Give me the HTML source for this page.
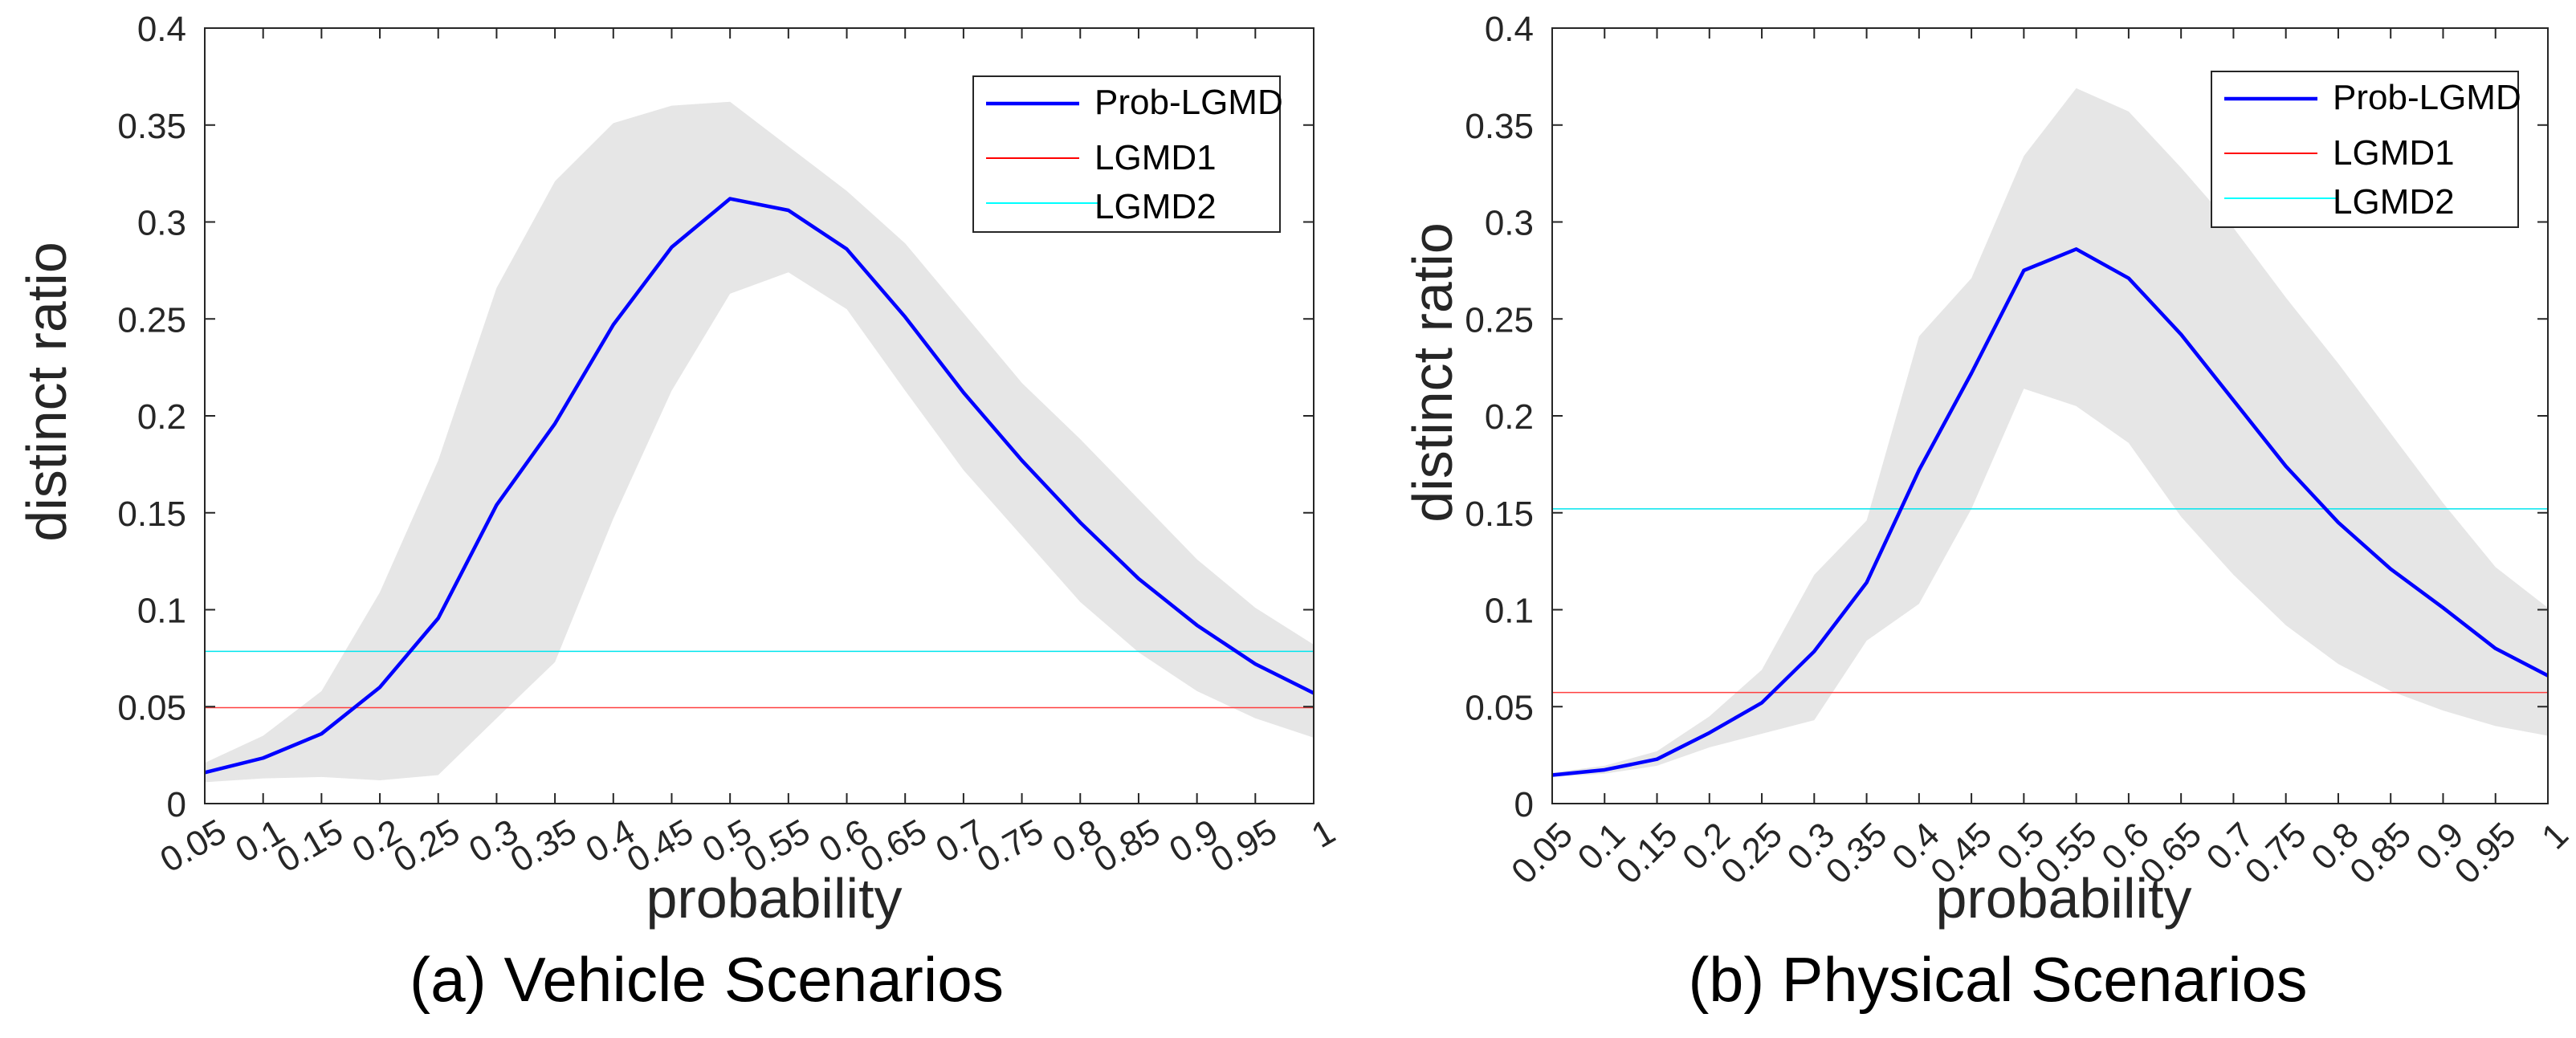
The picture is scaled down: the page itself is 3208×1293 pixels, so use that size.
<!DOCTYPE html>
<html><head><meta charset="utf-8"><style>
html,body{margin:0;padding:0;background:#fff;}
svg{display:block;}
text{font-family:"Liberation Sans",sans-serif;fill:#262626;}
</style></head><body>
<svg id="fig" width="3208" height="1293" xmlns="http://www.w3.org/2000/svg"></svg>
<script>
const xCategories=[0.05,0.1,0.15,0.2,0.25,0.3,0.35,0.4,0.45,0.5,0.55,0.6,0.65,0.7,0.75,0.8,0.85,0.9,0.95,1];
const xTickLabels=["0.05","0.1","0.15","0.2","0.25","0.3","0.35","0.4","0.45","0.5","0.55","0.6","0.65","0.7","0.75","0.8","0.85","0.9","0.95","1"];
const yTicks=[0,0.05,0.1,0.15,0.2,0.25,0.3,0.35,0.4];
const yTickLabels=["0","0.05","0.1","0.15","0.2","0.25","0.3","0.35","0.4"];
const seriesNames=["Prob-LGMD","LGMD1","LGMD2"];
const vehicleMean=[0.016,0.0235,0.036,0.060,0.0956,0.154,0.196,0.247,0.287,0.312,0.306,0.286,0.251,0.212,0.177,0.145,0.116,0.092,0.072,0.057];
const vehicleUpper=[0.021,0.035,0.058,0.109,0.177,0.266,0.321,0.351,0.360,0.362,0.339,0.316,0.289,0.253,0.217,0.188,0.157,0.126,0.101,0.082];
const vehicleLower=[0.011,0.013,0.0137,0.012,0.0147,0.044,0.073,0.147,0.213,0.263,0.274,0.255,0.213,0.172,0.138,0.104,0.078,0.058,0.044,0.034];
const vehicleLGMD1=0.0495;
const vehicleLGMD2=0.0785;
const physicalMean=[0.0147,0.0174,0.0229,0.0365,0.052,0.0785,0.114,0.172,0.222,0.275,0.286,0.271,0.242,0.208,0.174,0.145,0.121,0.101,0.080,0.066];
const physicalUpper=[0.016,0.0195,0.027,0.045,0.069,0.118,0.146,0.241,0.271,0.334,0.369,0.357,0.328,0.297,0.261,0.227,0.191,0.155,0.122,0.101];
const physicalLower=[0.0137,0.0154,0.0195,0.029,0.036,0.043,0.084,0.103,0.152,0.214,0.205,0.186,0.148,0.118,0.092,0.072,0.058,0.048,0.040,0.035];
const physicalLGMD1=0.0573;
const physicalLGMD2=0.152;

const NS="http://www.w3.org/2000/svg";
const svg=document.getElementById('fig');
function mk(tag,attrs,parent){const e=document.createElementNS(NS,tag);for(const k in attrs)e.setAttribute(k,attrs[k]);(parent||svg).appendChild(e);return e;}

function drawPanel(cfg){
  const g=mk('g',{});
  
  
  const L=cfg.left,R=cfg.right,T=35,B=1001;
  const xs=i=>L+(R-L)*(xCategories[i]-xCategories[0])/(xCategories[xCategories.length-1]-xCategories[0]);
  const ys=v=>B-(B-T)*v/0.4;
  // band
  let d='';
  cfg.upper.forEach((v,i)=>{d+=(i?'L':'M')+xs(i)+','+ys(v);});
  for(let i=cfg.lower.length-1;i>=0;i--)d+='L'+xs(i)+','+ys(cfg.lower[i]);
  const band=mk('path',{d:d+'Z',fill:'#e6e6e6',stroke:'none'},g);
  
  
  // lgmd lines
  const l1=mk('line',{x1:L,x2:R,y1:ys(cfg.lgmd1),y2:ys(cfg.lgmd1),stroke:'#ff4040','stroke-width':1.5},g);
  
  
  const l2=mk('line',{x1:L,x2:R,y1:ys(cfg.lgmd2),y2:ys(cfg.lgmd2),stroke:'#00e5ee','stroke-width':1.5},g);
  
  
  // mean
  const pts=cfg.mean.map((v,i)=>xs(i)+','+ys(v)).join(' ');
  const pl=mk('polyline',{points:pts,fill:'none',stroke:'#0000ff','stroke-width':4.5,'stroke-linejoin':'round'},g);
  
  
  // box
  const box=mk('rect',{x:L,y:T,width:R-L,height:B-T,fill:'none',stroke:'#262626','stroke-width':2},g);
  
  
  // x ticks
  xCategories.forEach((c,i)=>{
    const x=xs(i);
    mk('line',{x1:x,x2:x,y1:B,y2:B-13,stroke:'#262626','stroke-width':2},g);
    mk('line',{x1:x,x2:x,y1:T,y2:T+13,stroke:'#262626','stroke-width':2},g);
    const t=mk('text',{'font-size':44,'text-anchor':'end',transform:'translate('+(x+cfg.tdx)+','+cfg.tdy+') rotate('+cfg.rot+')'},g);
    
    
    t.textContent=xTickLabels[i];
  });
  yTicks.forEach((v,i)=>{
    const y=ys(v);
    mk('line',{x1:L,x2:L+13,y1:y,y2:y,stroke:'#262626','stroke-width':2},g);
    mk('line',{x1:R,x2:R-13,y1:y,y2:y,stroke:'#262626','stroke-width':2},g);
    const t=mk('text',{x:L-23,y:y+16,'font-size':44,'text-anchor':'end'},g);
    
    
    t.textContent=yTickLabels[i];
  });
  const yl=mk('text',{'font-size':70,'text-anchor':'middle',transform:'translate('+cfg.ylx+','+cfg.yly+') rotate(-90)'},g);
  
  
  yl.textContent='distinct ratio';
  const xl=mk('text',{x:cfg.xlx,y:1143,'font-size':70,'text-anchor':'middle'},g);
  
  
  xl.textContent='probability';
  const cap=mk('text',{x:cfg.capx,y:1247,'font-size':78,'text-anchor':'middle',textLength:cfg.capw,lengthAdjust:'spacingAndGlyphs',style:'fill:#000'},g);
  
  
  cap.textContent=cfg.caption;
  // legend
  const lx=cfg.legx,ly=cfg.legy;
  const lg=mk('g',{},g);
  
  
  mk('rect',{x:lx,y:ly,width:382,height:194,fill:'#fff',stroke:'#262626','stroke-width':2},lg);
  const rows=[{c:'#0000ff',w:4.5,y:34,x2:132,ty:47},{c:'#ff0000',w:2,y:102,x2:132,ty:116},{c:'#00ffff',w:2,y:158,x2:157,ty:177}];
  rows.forEach((r,i)=>{
    const e=mk('g',{},lg);
    
    
    mk('line',{x1:lx+16,x2:lx+r.x2,y1:ly+r.y,y2:ly+r.y,stroke:r.c,'stroke-width':r.w},e);
    const t=mk('text',{x:lx+151,y:ly+r.ty,'font-size':44,style:'fill:#000'},e);
    t.textContent=seriesNames[i];
  });
}
drawPanel({name:'vehicle-chart',left:255,right:1636,mean:vehicleMean,upper:vehicleUpper,lower:vehicleLower,lgmd1:vehicleLGMD1,lgmd2:vehicleLGMD2,rot:-30,tdx:30,tdy:1045,ylx:82,yly:488,xlx:964,capx:880,capw:740,caption:'(a)  Vehicle Scenarios',legx:1212,legy:95});
drawPanel({name:'physical-chart',left:1933,right:3173,mean:physicalMean,upper:physicalUpper,lower:physicalLower,lgmd1:physicalLGMD1,lgmd2:physicalLGMD2,rot:-45,tdx:28,tdy:1043,ylx:1808,yly:464,xlx:2570,capx:2488,capw:771,caption:'(b)  Physical Scenarios',legx:2754,legy:89});
</script>
</body></html>
